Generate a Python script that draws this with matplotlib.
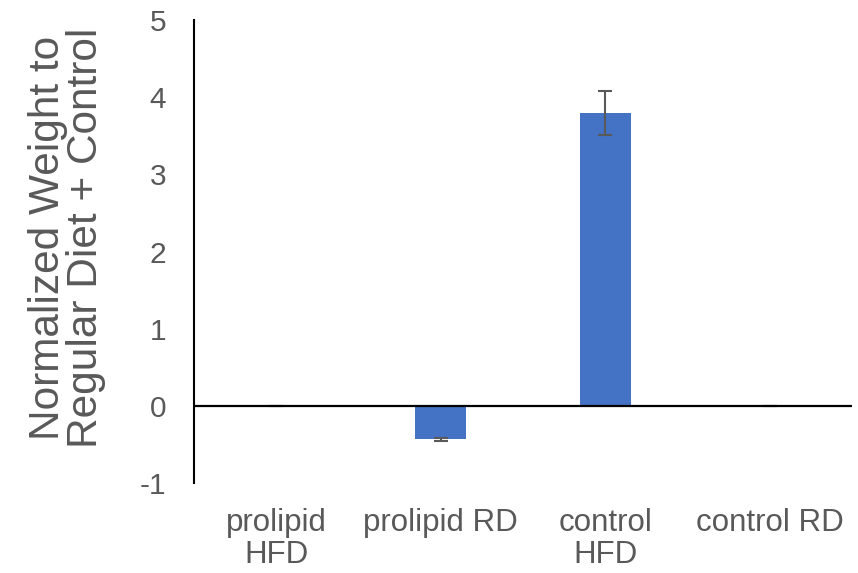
import matplotlib.pyplot as plt

categories = ['prolipid\nHFD', 'prolipid RD', 'control\nHFD', 'control RD']
values = [0.0, -0.43, 3.79, 0.0]
errors = [0.0, 0.02, 0.285, 0.0]

plt.rcParams['font.family'] = ['Liberation Sans', 'DejaVu Sans']
plt.rcParams['axes.unicode_minus'] = False

fig = plt.figure(figsize=(8.58, 5.73), dpi=100)
ax = fig.add_axes([0.226, 0.157, 0.767, 0.808])

x = range(len(categories))
ax.bar(x, values, width=0.31, color='#4472C4', zorder=2)
ax.errorbar(x, values, yerr=errors, fmt='none', ecolor='#595959',
            elinewidth=1.5, capsize=5, capthick=1.5, zorder=3)
ax.axhline(0, color='black', lw=1.6, zorder=4)

ax.set_xlim(-0.5, 3.5)
ax.set_ylim(-1, 5)
ax.set_yticks(range(-1, 6))
ax.set_xticks(list(x))
ax.set_xticklabels(categories, linespacing=1.08)

for s in ['top', 'right', 'bottom']:
    ax.spines[s].set_visible(False)
ax.spines['left'].set_linewidth(1.5)
ax.tick_params(axis='y', length=0, pad=20, labelsize=21.5, labelcolor='#595959')
ax.tick_params(axis='x', length=0, pad=18, labelsize=22.5, labelcolor='#595959')

ax.set_ylabel('Normalized Weight to\nRegular Diet + Control', fontsize=30.5,
              color='#595959', linespacing=0.95, labelpad=24)
ax.yaxis.label.set_y(0.53)

fig.savefig('out.png', dpi=100)
